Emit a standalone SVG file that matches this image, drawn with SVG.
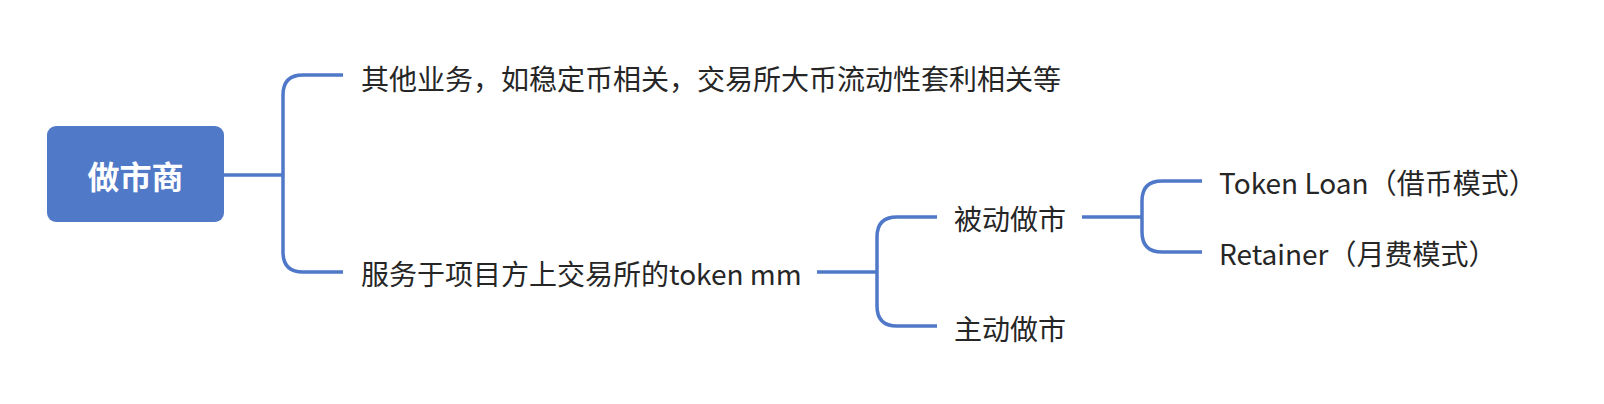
<svg xmlns="http://www.w3.org/2000/svg" width="1604" height="404" viewBox="0 0 1604 404">
<style>
.c{fill:none;stroke:#4F78C8;stroke-width:3.5;stroke-linecap:butt;stroke-linejoin:round}
.t{font-family:"Noto Sans CJK SC","Noto Sans",sans-serif;font-size:28px;fill:#262626;dominant-baseline:central}
.r{font-family:"Noto Sans CJK SC","Noto Sans",sans-serif;font-size:32px;font-weight:bold;fill:#FFFFFF;dominant-baseline:central;text-anchor:middle}
</style>
<rect width="1604" height="404" fill="#FFFFFF"/>
<g id="connectors">
<path class="c" d="M224,175 H283"/>
<path class="c" d="M343,75 H303 Q283,75 283,95 V252 Q283,272 303,272 H343"/>
<path class="c" d="M817,272 H877"/>
<path class="c" d="M937,217 H897 Q877,217 877,237 V306 Q877,326 897,326 H937"/>
<path class="c" d="M1082,217 H1142"/>
<path class="c" d="M1202,181 H1162 Q1142,181 1142,201 V232 Q1142,252 1162,252 H1202"/>
</g>
<g id="root">
<rect x="47" y="126" width="177" height="96" rx="9" fill="#5079C8"/>
<text class="r" x="135.5" y="175">做市商</text>
</g>
<g id="n1"><text class="t" x="361" y="78">其他业务，如稳定币相关，交易所大币流动性套利相关等</text></g>
<g id="n2"><text class="t" x="361" y="273">服务于项目方上交易所的token mm</text></g>
<g id="n3"><text class="t" x="954" y="218">被动做市</text></g>
<g id="n4"><text class="t" x="954" y="328">主动做市</text></g>
<g id="n5"><text class="t" x="1219" y="182">Token Loan（借币模式）</text></g>
<g id="n6"><text class="t" x="1219" y="253">Retainer（月费模式）</text></g>
</svg>
